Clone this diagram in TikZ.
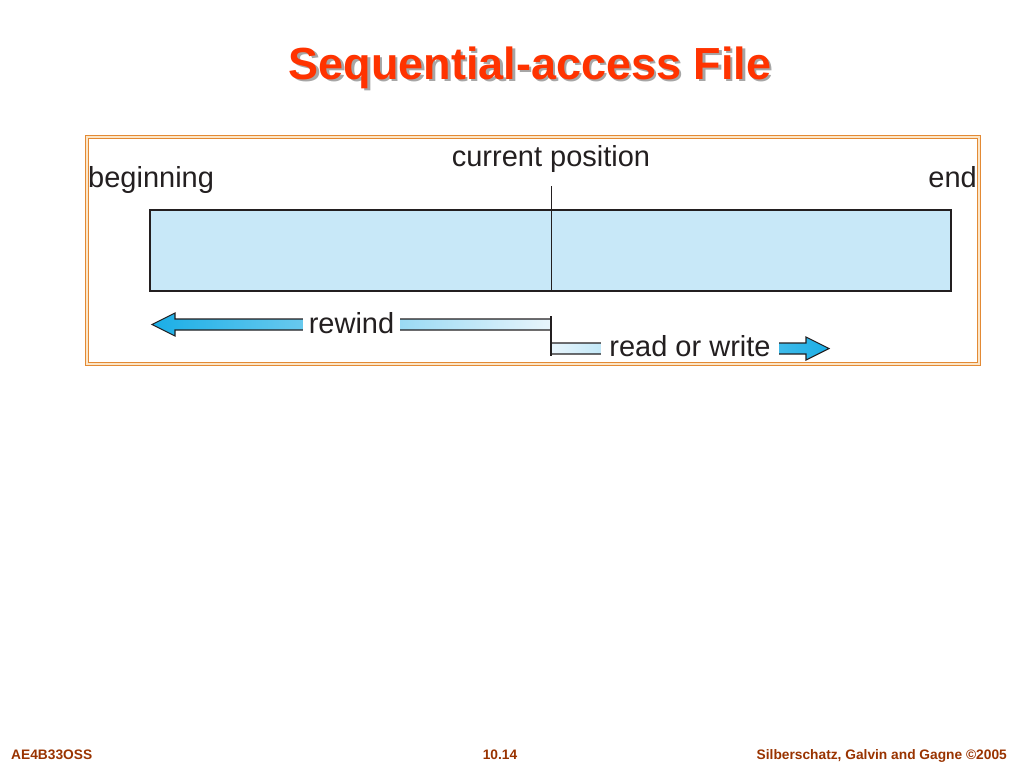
\documentclass[tikz,border=0pt]{standalone}
\usepackage{fontspec}
\setmainfont{Liberation Sans}
\usepackage{xcolor}
\usetikzlibrary{calc}
\definecolor{titlered}{HTML}{FF3300}
\definecolor{footbrown}{HTML}{993300}
\definecolor{frameorange}{HTML}{E38A35}
\definecolor{framecream}{HTML}{FCE6C8}
\definecolor{filefill}{HTML}{C8E8F8}
\definecolor{inkgray}{HTML}{231F20}
\definecolor{arrowcyan}{HTML}{1AAEE6}
\definecolor{arrowpale}{HTML}{E8F5FC}

\begin{document}
\begin{tikzpicture}[x=1pt,y=-1pt,
	lbl/.style={font=\fontsize{29}{34}\selectfont, text=inkgray, inner sep=0pt},
	foot/.style={font=\fontsize{13.75}{16}\selectfont\bfseries, text=footbrown, inner sep=0pt},
	ttl/.style={font=\fontsize{45}{54}\selectfont\bfseries, inner sep=0pt},
	edge/.style={draw=inkgray, line width=1.1pt, line join=miter}]
	\useasboundingbox (0,0) rectangle (1024,768);
	\node[ttl, anchor=base] (title) at (530,79) {\rlap{\kern2.5pt\raisebox{-2.5pt}{\color{black!35}Sequential-access File}}\textcolor{titlered}{Sequential-access File}};
	\draw[frameorange, line width=1.3pt, double=framecream, double distance=1.6pt] (87,137) rectangle (979,364);
	\coordinate (fb) at (150,210);
	\coordinate (fe) at (951,291);
	\draw[edge, line width=1.4pt, fill=filefill] (fb) rectangle (fe);
	\node[lbl, anchor=base west] (beg) at (88,187) {beginning};
	\node[lbl, anchor=base east] (end) at (977,187) {end};
	\node[lbl, anchor=base] (cur) at (551,166) {current position};
	\coordinate (cp) at (551,291);%current point
	\draw [edge, line width=0.9pt, shorten <= 14pt] (cur.south) to (cp);
	\coordinate (rw) at (152,324.5);
	\shade[left color=arrowcyan, right color=arrowpale] (551,319) -- (175,319) -- (175,313) -- (rw) -- (175,336) -- (175,330) -- (551,330) -- cycle;
	\draw [edge] (551,319) -- (175,319) -- (175,313) -- (rw) -- (175,336) -- (175,330) -- (551,330);
	\node[lbl, fill=white, inner xsep=6pt, anchor=base] (rew) at (351.5,333) {rewind};
	\coordinate (rd) at (829,348.5);
	\shade[left color=arrowpale, right color=arrowcyan] (551,343) -- (806,343) -- (806,337) -- (rd) -- (806,360) -- (806,354) -- (551,354) -- cycle;
	\draw [edge] (551,343) -- (806,343) -- (806,337) -- (rd) -- (806,360) -- (806,354) -- (551,354);
	\node[lbl, fill=white, inner xsep=8pt, anchor=base] (rw-text) at (690,356) {read or write};
	\coordinate (tk1) at (551,316);
	\coordinate (tk2) at (551,356);
	\draw [edge] (tk1) to (tk2);
	\node[foot, anchor=base west] (course) at (11,759) {AE4B33OSS};
	\node[foot, anchor=base] (page) at (500,759) {10.14};
	\node[foot, anchor=base east] (authors) at (1007,759) {Silberschatz, Galvin and Gagne ©2005};
\end{tikzpicture}
\end{document}
